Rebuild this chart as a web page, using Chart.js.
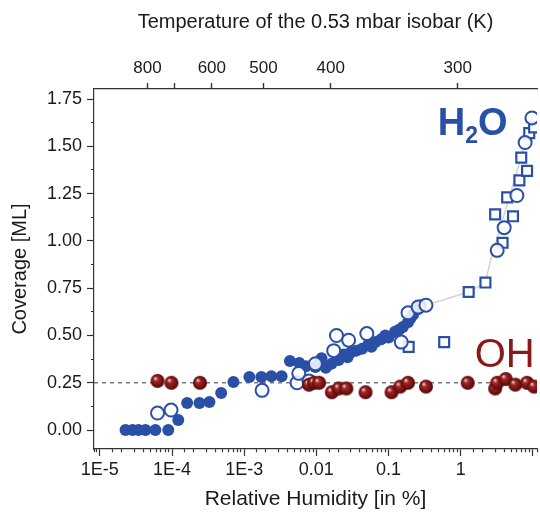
<!DOCTYPE html>
<html>
<head>
<meta charset="utf-8">
<script src="https://cdn.jsdelivr.net/npm/chart.js@4.4.1/dist/chart.umd.min.js"></script>
<style>
  html, body { margin: 0; padding: 0; background: #fff; }
  #wrap { width: 540px; height: 514px; position: relative; overflow: hidden; }
</style>
</head>
<body>
<div id="wrap"><canvas id="chart"></canvas></div>
<script>
// ===== DATA =====
// relative humidity (%) / coverage (ML)
const h2oFilledRH = [2.27e-5, 2.84e-5, 3.43e-5, 4.28e-5, 5.88e-5, 8.87e-5, 1.22e-4,
  1.62e-4, 2.4e-4, 3.3e-4, 4.8e-4, 7.1e-4, 1.18e-3, 1.73e-3, 2.38e-3, 3.3e-3,
  4.3e-3, 5.8e-3, 7.2e-3, 9.7e-3, 0.0109, 0.0118, 0.0135, 0.0162, 0.0204, 0.024,
  0.027, 0.030, 0.036, 0.043, 0.052, 0.058, 0.066, 0.079, 0.09, 0.10, 0.123,
  0.14, 0.158, 0.186, 0.2, 0.219, 0.257, 0.28];
const h2oFilledCov = [0, 0, 0, 0, 0, 0, 0.053,
  0.143, 0.143, 0.148, 0.196, 0.254, 0.28, 0.28, 0.285, 0.285,
  0.365, 0.354, 0.338, 0.333, 0.36, 0.38, 0.33, 0.35, 0.37, 0.40,
  0.385, 0.41, 0.42, 0.43, 0.45, 0.44, 0.465, 0.48, 0.50, 0.49, 0.52,
  0.53, 0.545, 0.57, 0.59, 0.61, 0.64, 0.66];

const h2oOpenRH = [6.3e-5, 9.7e-5, 1.77e-3, 5.4e-3, 5.7e-3, 7.9e-3, 9.7e-3,
  0.0174, 0.019, 0.028, 0.050, 0.15, 0.186, 0.257, 0.33,
  3.2, 4.0, 6.0, 7.8, 9.7];
const h2oOpenCov = [0.09, 0.106, 0.21, 0.25, 0.30, 0.26, 0.35,
  0.42, 0.50, 0.475, 0.51, 0.465, 0.62, 0.65, 0.66,
  0.95, 1.07, 1.24, 1.52, 1.65];

const h2oSquareRH = [0.19, 0.59, 1.29, 2.2, 3.0, 3.8, 4.4, 5.3, 6.5, 6.9, 8.3, 8.9, 10.4];
const h2oSquareCov = [0.44, 0.465, 0.73, 0.78, 1.14, 0.99, 1.23, 1.13, 1.32, 1.44, 1.37, 1.57, 1.60];

const ohRH = [6.3e-5, 9.8e-5, 2.44e-4, 7.9e-3, 9.3e-3, 0.0109, 0.0164, 0.0204,
  0.026, 0.048, 0.11, 0.145, 0.186, 0.33, 1.25, 3.0, 3.2, 4.2, 5.7, 8.3, 10.4];
const ohCov = [0.26, 0.25, 0.25, 0.24, 0.25, 0.25, 0.20, 0.22,
  0.22, 0.20, 0.20, 0.23, 0.25, 0.23, 0.25, 0.22, 0.25, 0.27, 0.24, 0.25, 0.23];

// guide line through the H2O data
const guideRH = [0.33, 1.29, 2.2, 2.6, 10.7];
const guideCov = [0.66, 0.73, 0.78, 0.9, 1.69];

const ohLevel = 0.25;

// axes
const xMin = 8.3e-6, xMax = 11.4;
const yMin = -0.1, yMax = 1.803;
const xTickValues = [1e-5, 1e-4, 1e-3, 0.01, 0.1, 1];
const xTickLabels = ['1E-5', '1E-4', '1E-3', '0.01', '0.1', '1'];
const yTicks = [0, 0.125, 0.25, 0.375, 0.5, 0.625, 0.75, 0.875, 1, 1.125, 1.25, 1.375, 1.5, 1.625, 1.75];
// top axis: temperature of the 0.53 mbar isobar, placed at the matching RH
const topTickRH = [4.56e-5, 1.07e-4, 3.56e-4, 1.85e-3, 0.0158, 0.91];
const topTickLabels = ['800', '', '600', '500', '400', '300'];

// ===== HELPERS =====
const BLUE = '#2a4fa6';
const RED_TXT = '#8a1818';
const AXIS = '#333';
const TXT = '#1a1a1a';
const FONT = "'Liberation Sans', Arial, sans-serif";

function pairs(xs, ys) {
  return xs.map((x, i) => ({ x: x, y: ys[i] }));
}
function isDecade(v) {
  const l = Math.log10(v);
  return Math.abs(l - Math.round(l)) < 1e-6;
}
function makeSphere(r) {
  const c = document.createElement('canvas');
  c.width = c.height = r * 2 + 2;
  const g = c.getContext('2d');
  const cx = r + 1, cy = r + 1;
  const grad = g.createRadialGradient(cx - r * 0.35, cy - r * 0.4, r * 0.05, cx, cy, r);
  grad.addColorStop(0, '#f4cccc');
  grad.addColorStop(0.3, '#a02828');
  grad.addColorStop(1, '#560505');
  g.fillStyle = grad;
  g.beginPath();
  g.arc(cx, cy, r, 0, Math.PI * 2);
  g.fill();
  return c;
}

// species labels drawn on top
const labelPlugin = {
  id: 'species',
  afterDatasetsDraw(chart) {
    const ctx = chart.ctx;
    const xs = chart.scales.x, ys = chart.scales.y;
    ctx.save();
    ctx.textBaseline = 'alphabetic';
    ctx.textAlign = 'left';
    // H2O
    let px = xs.getPixelForValue(0.48), py = ys.getPixelForValue(1.56);
    ctx.fillStyle = BLUE;
    ctx.font = 'bold 38px ' + FONT;
    ctx.fillText('H', px, py);
    px += ctx.measureText('H').width;
    ctx.font = 'bold 23px ' + FONT;
    ctx.fillText('2', px, py + 8);
    px += ctx.measureText('2').width;
    ctx.font = 'bold 38px ' + FONT;
    ctx.fillText('O', px, py);
    // OH
    ctx.fillStyle = RED_TXT;
    ctx.font = '40px ' + FONT;
    ctx.fillText('OH', xs.getPixelForValue(1.56), ys.getPixelForValue(0.333));
    ctx.restore();
  }
};

// ===== CHART =====
const ctx = document.getElementById('chart').getContext('2d');
new Chart(ctx, {
  type: 'scatter',
  data: {
    datasets: [
      {
        label: 'OH',
        data: pairs(ohRH, ohCov),
        pointStyle: makeSphere(7),
        pointRadius: 7,
        order: 1
      },
      {
        label: 'H2O filled',
        data: pairs(h2oFilledRH, h2oFilledCov),
        backgroundColor: BLUE,
        borderColor: BLUE,
        borderWidth: 0,
        pointRadius: 6,
        order: 3
      },
      {
        label: 'H2O open',
        data: pairs(h2oOpenRH, h2oOpenCov),
        backgroundColor: 'rgba(255,255,255,0.85)',
        borderColor: BLUE,
        borderWidth: 2,
        pointRadius: 6.5,
        order: 2
      },
      {
        label: 'H2O squares',
        data: pairs(h2oSquareRH, h2oSquareCov),
        pointStyle: 'rect',
        backgroundColor: '#fff',
        borderColor: BLUE,
        borderWidth: 2.2,
        pointRadius: 7,
        order: 2
      },
      {
        type: 'line',
        label: 'guide',
        data: pairs(guideRH, guideCov),
        borderColor: '#d4d4d4',
        borderWidth: 1.5,
        pointRadius: 0,
        fill: false,
        order: 10
      },
      {
        type: 'line',
        label: 'OH level',
        data: [{ x: xMin, y: ohLevel }, { x: xMax, y: ohLevel }],
        borderColor: '#666',
        borderWidth: 1.3,
        borderDash: [4, 4],
        pointRadius: 0,
        fill: false,
        order: 11
      }
    ]
  },
  options: {
    responsive: true,
    maintainAspectRatio: false,
    animation: false,
    layout: { padding: 0, autoPadding: false },
    plugins: { legend: { display: false }, tooltip: { enabled: false } },
    scales: {
      x: {
        type: 'logarithmic',
        position: 'bottom',
        min: xMin,
        max: xMax,
        afterFit: s => { s.height = 65; },
        border: { display: true, color: AXIS, width: 1.2 },
        grid: {
          drawOnChartArea: false,
          drawTicks: true,
          tickLength: 7,
          tickColor: AXIS,
          tickWidth: 1.2,
          tickBorderDash: c => (c.tick && isDecade(c.tick.value)) ? [] : [3, 100]
        },
        ticks: {
          autoSkip: false,
          maxRotation: 0,
          minRotation: 0,
          padding: 3,
          color: TXT,
          font: { family: FONT, size: 18 },
          callback: function (v) {
            const i = xTickValues.findIndex(t => Math.abs(Math.log10(t) - Math.log10(v)) < 1e-6);
            return i >= 0 ? xTickLabels[i] : '';
          }
        },
        title: {
          display: true,
          text: 'Relative Humidity [in %]',
          color: TXT,
          font: { family: FONT, size: 21 },
          padding: { top: 0, bottom: 2 }
        }
      },
      x2: {
        type: 'logarithmic',
        position: 'top',
        min: xMin,
        max: xMax,
        afterBuildTicks: s => { s.ticks = topTickRH.map(v => ({ value: v })); },
        afterFit: s => { s.height = 89; },
        border: { display: true, color: AXIS, width: 1.2 },
        grid: {
          drawOnChartArea: false,
          drawTicks: true,
          tickLength: 6,
          tickColor: AXIS,
          tickWidth: 1.4
        },
        ticks: {
          autoSkip: false,
          maxRotation: 0,
          minRotation: 0,
          padding: 4,
          color: TXT,
          font: { family: FONT, size: 17 },
          callback: (v, i) => topTickLabels[i]
        },
        title: {
          display: true,
          text: 'Temperature of the 0.53 mbar isobar (K)',
          color: TXT,
          font: { family: FONT, size: 20 },
          padding: { top: 10, bottom: 0 }
        }
      },
      y: {
        type: 'linear',
        min: yMin,
        max: yMax,
        afterBuildTicks: s => { s.ticks = yTicks.map(v => ({ value: v })); },
        afterFit: s => { s.width = 94; },
        border: { display: true, color: AXIS, width: 1.2 },
        grid: {
          drawOnChartArea: false,
          drawTicks: true,
          tickLength: 7,
          tickColor: AXIS,
          tickWidth: 1.2,
          tickBorderDash: c => (c.tick && Math.abs(c.tick.value * 4 - Math.round(c.tick.value * 4)) < 1e-6) ? [] : [0, 4, 3, 100]
        },
        ticks: {
          autoSkip: false,
          padding: 5,
          color: TXT,
          font: { family: FONT, size: 18 },
          callback: v => (Math.abs(v * 4 - Math.round(v * 4)) < 1e-6) ? v.toFixed(2) : ''
        },
        title: {
          display: true,
          text: 'Coverage [ML]',
          color: TXT,
          font: { family: FONT, size: 20 },
          padding: { top: 8, bottom: 0 }
        }
      }
    }
  },
  plugins: [labelPlugin]
});
</script>
</body>
</html>
